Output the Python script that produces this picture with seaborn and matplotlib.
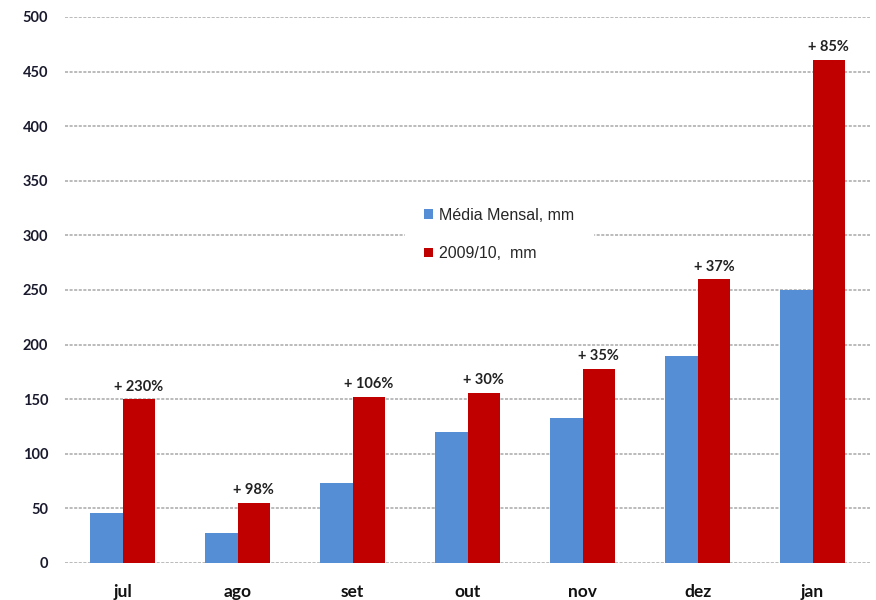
import matplotlib
matplotlib.use("Agg")
import matplotlib.pyplot as plt
import seaborn as sns
import pandas as pd

# Monthly rainfall: long-term monthly mean vs. the 2009/10 season (mm)
months = ["jul", "ago", "set", "out", "nov", "dez", "jan"]
media_mensal = [46, 27, 73, 120, 133, 190, 250]
safra_2009_10 = [150, 55, 152, 156, 178, 260, 461]
variacao = ["+ 230%", "+ 98%", "+ 106%", "+ 30%", "+ 35%", "+ 37%", "+ 85%"]
series_names = ["Média Mensal, mm", "2009/10,  mm"]
y_ticks = [0, 50, 100, 150, 200, 250, 300, 350, 400, 450, 500]

df = pd.DataFrame({
    "mes": months * 2,
    "mm": media_mensal + safra_2009_10,
    "serie": [series_names[0]] * len(months) + [series_names[1]] * len(months),
})

sns.set_theme(style="white")
plt.rcParams["font.family"] = ["Lato", "DejaVu Sans"]

fig = plt.figure(figsize=(8.76, 6.0), dpi=100)
ax = fig.add_axes([0.0742, 0.0617, 0.919, 0.91])

palette = {series_names[0]: "#558ED5", series_names[1]: "#C00000"}
sns.barplot(data=df, x="mes", y="mm", hue="serie", order=months,
            hue_order=series_names, palette=palette, width=0.57,
            saturation=1, linewidth=0, ax=ax, legend=True, zorder=2)

ax.set_ylim(0, 500)
ax.set_xlim(-0.5, len(months) - 0.5)
ax.set_yticks(y_ticks)
ax.set_xlabel("")
ax.set_ylabel("")
for side in ["top", "right", "left", "bottom"]:
    ax.spines[side].set_visible(False)

ax.yaxis.grid(True, color="#a8a8a8", linestyle=(0, (2, 1)), linewidth=1.1, zorder=0)
ax.set_axisbelow(True)
ax.tick_params(axis="y", length=0, pad=12, labelsize=10.5, labelcolor="#1a1a2e")
ax.tick_params(axis="x", length=0, pad=15, labelsize=12.5, labelcolor="#111111")
for lbl in ax.get_yticklabels():
    lbl.set_fontweight("bold")
for lbl in ax.get_xticklabels():
    lbl.set_fontweight("bold")

# Percentage increase over the monthly mean, above each 2009/10 bar
red_bars = ax.containers[1]
ax.bar_label(red_bars, labels=variacao, padding=4, fontsize=10.5,
             fontweight="bold", color="#222222")

handles, labels = ax.get_legend_handles_labels()
leg = ax.legend(handles, labels, loc="upper left", bbox_to_anchor=(0.412, 0.70),
                frameon=True, framealpha=1, edgecolor="white", facecolor="white",
                fancybox=False, handlelength=0.55, handleheight=0.55,
                handletextpad=0.4, labelspacing=1.45, borderpad=1.2,
                prop={"family": "Liberation Sans", "size": 11.5})
leg.set_zorder(5)

fig.savefig("out.png", dpi=100)
